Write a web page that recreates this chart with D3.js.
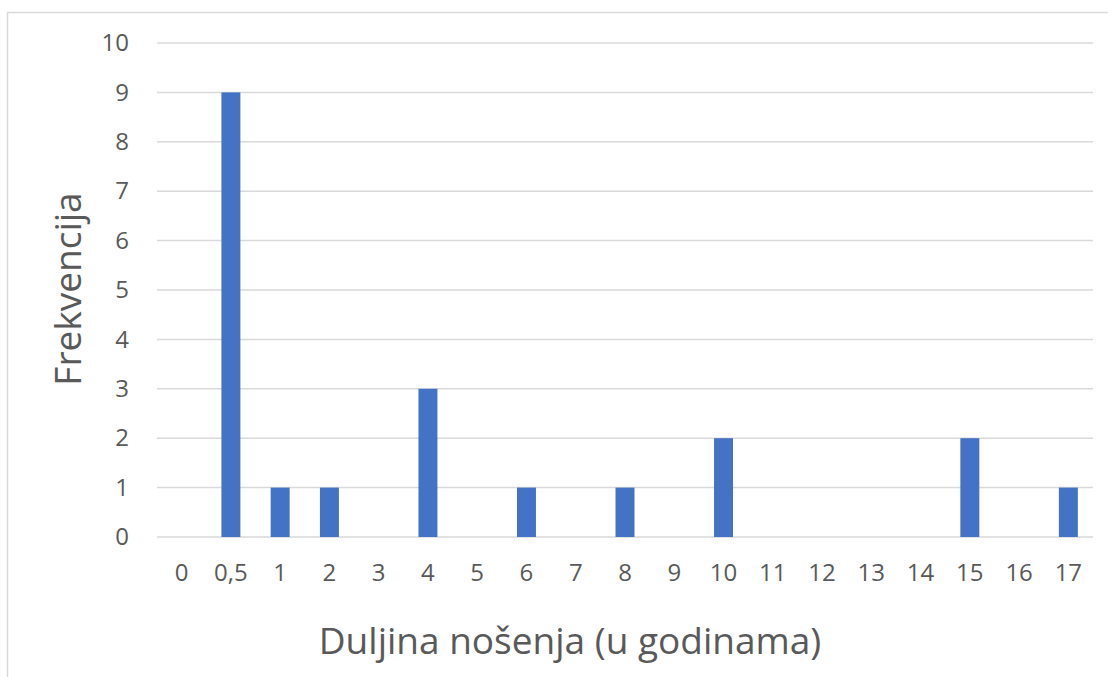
<!DOCTYPE html>
<html>
<head>
<meta charset="utf-8">
<script src="https://cdn.jsdelivr.net/npm/d3@7"></script>
<style>
  body { margin: 0; background: #fff; }
  svg { display: block; }
</style>
</head>
<body>
<div id="chart"></div>
<script>
// categories on the x axis (years worn) and their frequencies
var categories = ["0", "0,5", "1", "2", "3", "4", "5", "6", "7", "8", "9", "10", "11", "12", "13", "14", "15", "16", "17"];
var frequencies = [0, 9, 1, 1, 0, 3, 0, 1, 0, 1, 0, 2, 0, 0, 0, 0, 2, 0, 1];
var yTicks = [0, 1, 2, 3, 4, 5, 6, 7, 8, 9, 10];

var config = {
    width: 1108,
    height: 677,
    plot: { left: 157, right: 1093, top: 43, bottom: 537 },
    barColor: "#4472C4",
    gridColor: "#d9d9d9",
    textColor: "#595959",
    font: "'Open Sans', sans-serif"
};

var data = categories.map((c, i) => ({ cat: c, value: frequencies[i] }));

var svg = d3.select("#chart").append("svg")
    .attr("width", config.width)
    .attr("height", config.height);

// chart frame
svg.append("rect")
    .attr("x", 7.5).attr("y", 12.5)
    .attr("width", config.width + 20).attr("height", config.height + 20)
    .attr("fill", "none")
    .attr("stroke", config.gridColor)
    .attr("stroke-width", 1.5);

var x = d3.scaleBand()
    .domain(categories)
    .range([config.plot.left, config.plot.right])
    .paddingInner(0.615)
    .paddingOuter(0.3075);

var y = d3.scaleLinear()
    .domain([0, 10])
    .range([config.plot.bottom, config.plot.top]);

// gridlines
svg.append("g")
    .selectAll("line")
    .data(yTicks)
    .join("line")
    .attr("x1", config.plot.left)
    .attr("x2", config.plot.right)
    .attr("y1", (d) => y(d))
    .attr("y2", (d) => y(d))
    .attr("stroke", config.gridColor)
    .attr("stroke-width", 1.5);

// y axis labels
var yAxis = svg.append("g")
    .attr("transform", `translate(${config.plot.left}, 0)`)
    .call(d3.axisLeft(y).tickValues(yTicks).tickSize(0).tickPadding(28));
yAxis.select(".domain").remove();
yAxis.attr("font-family", config.font).attr("font-size", 24);
yAxis.selectAll("text").attr("fill", config.textColor);

// x axis labels
var xAxis = svg.append("g")
    .attr("transform", `translate(0, ${config.plot.bottom})`)
    .call(d3.axisBottom(x).tickSize(0).tickPadding(27));
xAxis.select(".domain").remove();
xAxis.attr("font-family", config.font).attr("font-size", 24);
xAxis.selectAll("text").attr("fill", config.textColor);

// bars
svg.append("g")
    .selectAll("rect")
    .data(data.filter((d) => d.value > 0))
    .join("rect")
    .attr("x", (d) => x(d.cat))
    .attr("y", (d) => y(d.value))
    .attr("width", x.bandwidth())
    .attr("height", (d) => y(0) - y(d.value))
    .attr("fill", config.barColor);

// axis titles
svg.append("text")
    .attr("x", 570)
    .attr("y", 654)
    .attr("text-anchor", "middle")
    .attr("font-family", config.font)
    .attr("font-size", 37)
    .attr("fill", config.textColor)
    .text("Duljina nošenja (u godinama)");

svg.append("text")
    .attr("transform", `translate(81, 289) rotate(-90)`)
    .attr("text-anchor", "middle")
    .attr("font-family", config.font)
    .attr("font-size", 37)
    .attr("fill", config.textColor)
    .text("Frekvencija");
</script>
</body>
</html>
